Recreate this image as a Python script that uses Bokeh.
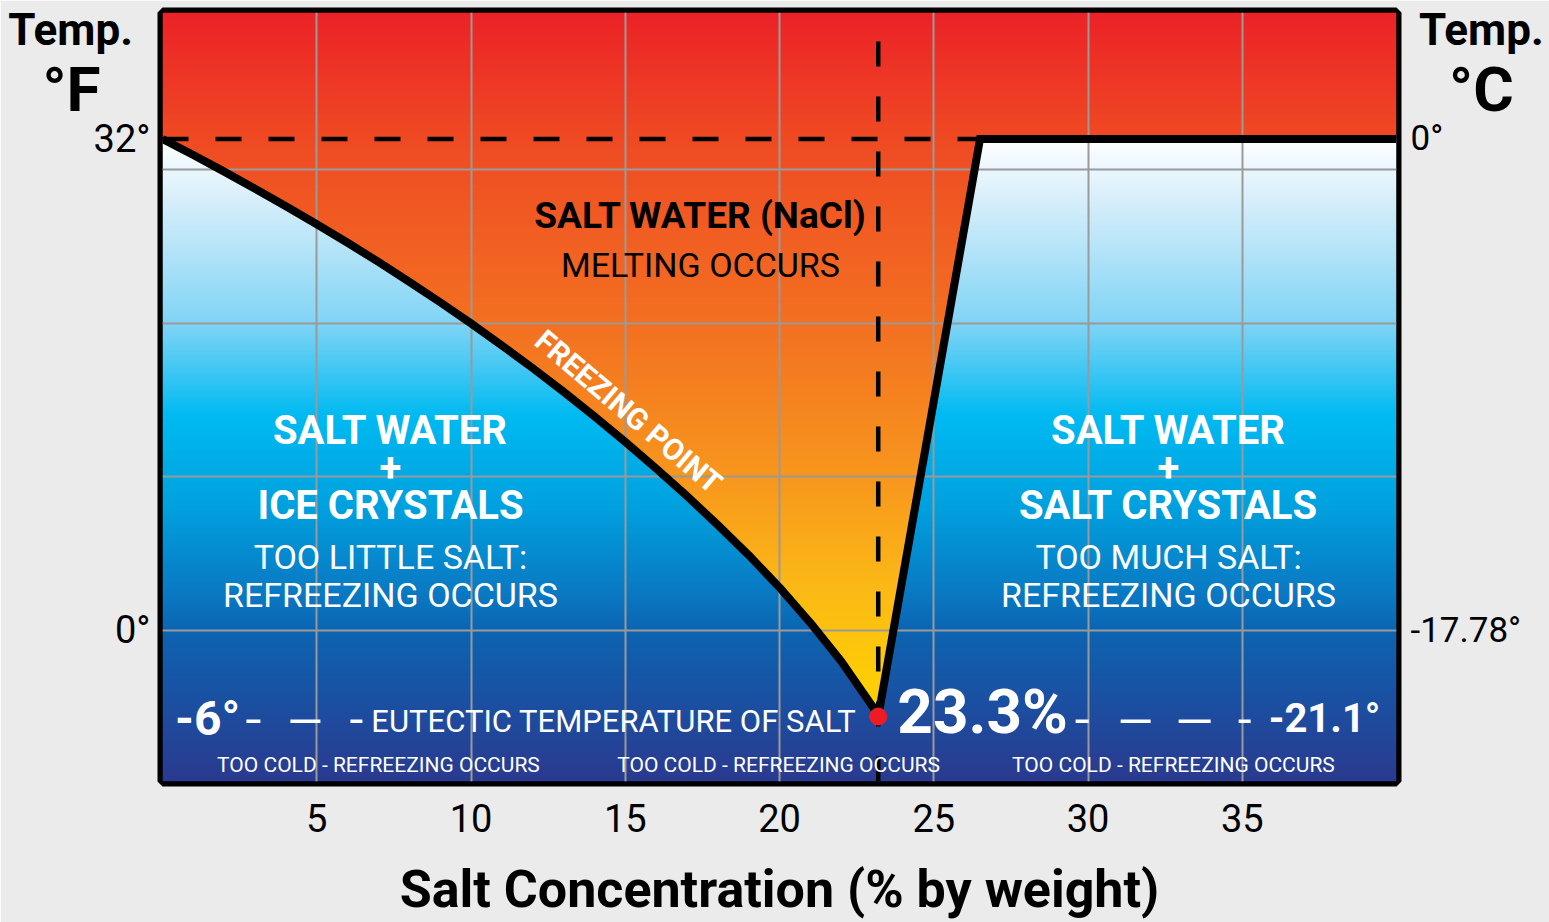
import numpy as np
from bokeh.plotting import figure
from bokeh.models import Range1d, LinearAxis, FixedTicker, Label
from bokeh.core.properties import value
from bokeh.embed import file_html
from bokeh.resources import INLINE

# ---------------- data ----------------
salt_pct = [0, 1, 2, 3, 4, 5, 6, 7, 8, 9, 10, 11, 12, 13, 14, 15, 16, 17, 18, 19, 20, 21, 22, 23, 23.2]
freeze_temp_f = [32.0, 30.95, 29.87, 28.76, 27.62, 26.45, 25.24, 23.99, 22.70, 21.37, 19.99, 18.56,
                 17.08, 15.54, 13.94, 12.28, 10.55, 8.75, 6.87, 4.91, 2.8, 0.5, -2.0, -4.9, -5.6]
saturation_pct = [23.2, 26.5, 40.0]
saturation_temp_f = [-5.6, 32.0, 32.0]
eutectic_pct = [23.2]
eutectic_temp_f = [-5.6]
water_freeze_f = [32.0, 32.0]
x_ticks = [5, 10, 15, 20, 25, 30, 35]
grid_f = [0, 10, 20, 30]
f_ticks = [0, 32]
f_labels = ["0°", "32°"]
c_labels = ["-17.78°", "0°"]

# gradient stops (style)
warm_y = [40.23, 32.0, 20.0, 10.0, 3.0, -6.0]
warm_rgb = [(236, 34, 39), (239, 74, 35), (243, 112, 33), (247, 150, 29), (251, 184, 22), (255, 214, 0)]
cold_y = [32.0, 28.0, 20.0, 14.0, 8.0, 2.0, 0.0, -5.0, -9.83]
cold_rgb = [(255, 255, 255), (214, 238, 250), (128, 212, 245), (0, 186, 241), (0, 160, 222),
            (10, 118, 193), (12, 100, 177), (28, 78, 160), (42, 58, 143)]

X0, X1 = 0.0, 40.0
Y0, Y1 = -9.83, 40.23

FONT = "Roboto"

p = figure(width=1549, height=922, x_range=Range1d(X0, X1), y_range=Range1d(Y0, Y1),
           output_backend="svg", toolbar_location=None,
           min_border_left=162, min_border_right=153, min_border_top=12, min_border_bottom=141)
p.border_fill_color = "#ebebeb"
p.background_fill_color = "#ffffff"
p.outline_line_color = "black"
p.outline_line_width = 10

# ---------------- background gradient image ----------------
nx, ny = 617, 385
xs = X0 + (np.arange(nx) + 0.5) * (X1 - X0) / nx
ys = Y0 + (np.arange(ny) + 0.5) * (Y1 - Y0) / ny
left_bound = np.interp(xs, salt_pct, freeze_temp_f)
right_bound = np.interp(xs, saturation_pct, saturation_temp_f)
bound = np.where(xs <= eutectic_pct[0], left_bound, right_bound)
liquid = ys[:, None] >= bound[None, :]


def grad(sy, srgb, y):
    sy = np.array(sy, float)
    c = np.array(srgb, float)
    o = np.argsort(sy)
    return np.stack([np.interp(y, sy[o], c[o, k]) for k in range(3)], -1)


warm = grad(warm_y, warm_rgb, ys)
cold = grad(cold_y, cold_rgb, ys)
rgb = np.where(liquid[..., None], warm[:, None, :], cold[:, None, :])
rgba = np.zeros((ny, nx, 4), dtype=np.uint8)
rgba[..., :3] = np.round(rgb).astype(np.uint8)
rgba[..., 3] = 255
img = rgba.view(np.uint32).reshape(ny, nx)
p.image_rgba(image=[img], x=X0, y=Y0, dw=X1 - X0, dh=Y1 - Y0, level="image")

# ---------------- grid ----------------
p.xgrid.ticker = FixedTicker(ticks=x_ticks)
p.ygrid.ticker = FixedTicker(ticks=grid_f)
p.grid.grid_line_color = "#9a9a9a"
p.grid.grid_line_width = 2

# ---------------- axes ----------------
p.xaxis.ticker = FixedTicker(ticks=x_ticks)
p.yaxis.ticker = FixedTicker(ticks=f_ticks)
p.yaxis.major_label_overrides = {t: s for t, s in zip(f_ticks, f_labels)}
raxis = LinearAxis(ticker=FixedTicker(ticks=f_ticks),
                   major_label_overrides={t: s for t, s in zip(f_ticks, c_labels)})
p.add_layout(raxis, "right")
for ax in [p.xaxis[0], p.yaxis[0], raxis]:
    ax.axis_line_color = None
    ax.major_tick_line_color = None
    ax.minor_tick_line_color = None
    ax.major_tick_out = 0
    ax.minor_tick_out = 0
    ax.major_label_text_font = FONT
    ax.major_label_text_font_size = "38px"
    ax.major_label_text_color = "black"
raxis.major_label_text_font_size = "35px"
p.xaxis.major_label_standoff = 22
p.yaxis[0].major_label_standoff = 12
raxis.major_label_standoff = 14
p.xaxis.axis_label = "Salt Concentration (% by weight)"
p.xaxis.axis_label_text_font = FONT
p.xaxis.axis_label_text_font_size = "52px"
p.xaxis.axis_label_text_font_style = "bold"
p.xaxis.axis_label_text_color = "black"
p.xaxis.axis_label_standoff = 24

# ---------------- lines ----------------
p.line([X0, saturation_pct[1]], water_freeze_f, line_color="black", line_width=4.5, line_dash="26 27")
p.line([eutectic_pct[0], eutectic_pct[0]], [Y0, Y1], line_color="black", line_width=4.5, line_dash="25 30")
p.line(salt_pct, freeze_temp_f, line_color="black", line_width=8, line_join="round")
p.line(saturation_pct, saturation_temp_f, line_color="black", line_width=8, line_join="miter")
p.scatter(eutectic_pct, eutectic_temp_f, size=18, fill_color="#ED1C24", line_color=None)

# white dash marks along eutectic temperature
p.line([2.72, 6.48], [-5.9, -5.9], line_color="white", line_width=3.5, line_dash="14 30 30 30 14 200")
p.line([29.6, 35.33], [-5.9, -5.9], line_color="white", line_width=3.5,
       line_dash="13 32 30 28 32 28 12 200")


# ---------------- texts ----------------
def lab(x, y, text, size, color="white", style="normal", align="center",
        baseline="middle", angle=0.0):
    p.add_layout(Label(x=x, y=y, text=text, text_font=FONT, text_font_size=f"{size}px",
                       text_font_style=style, text_color=color, text_align=align,
                       text_baseline=baseline, angle=angle))


def outside(x, y, text, size):
    # glyph text drawn at overlay level so that it is not clipped to the frame
    p.text(x=[x], y=[y], text=[text], text_font=value(FONT), text_font_size=value(f"{size}px"),
           text_font_style="bold", text_color="black", text_align="center",
           text_baseline="middle", level="overlay")


lab(17.44, 27.0, "SALT WATER (NaCl)", 37, color="black", style="bold")
lab(17.44, 23.82, "MELTING OCCURS", 34, color="black")

for cx, l2, l3 in [(7.39, "ICE CRYSTALS", "TOO LITTLE SALT:"), (32.61, "SALT CRYSTALS", "TOO MUCH SALT:")]:
    lab(cx, 13.02, "SALT WATER", 40, style="bold")
    lab(cx, 10.67, "+", 40, style="bold")
    lab(cx, 8.13, l2, 40, style="bold")
    lab(cx, 4.81, l3, 34)
    lab(cx, 2.34, "REFREEZING OCCURS", 34)

lab(15.11, 14.25, "FREEZING POINT", 30, style="bold", angle=-0.703)

lab(1.46, -5.73, "-6°", 48, style="bold")
lab(6.77, -5.93, "EUTECTIC TEMPERATURE OF SALT", 31, align="left")
lab(23.82, -5.28, "23.3%", 62, style="bold", align="left")
lab(39.48, -5.73, "-21.1°", 40, style="bold", align="right")
for cx in [7.0, 19.97, 32.77]:
    lab(cx, -8.73, "TOO COLD - REFREEZING OCCURS", 21)

outside(-2.98, 39.06, "Temp.", 44)
outside(-2.95, 35.25, "°F", 62)
outside(42.75, 39.06, "Temp.", 44)
outside(42.75, 35.25, "°C", 62)

open("out.html", "w").write(file_html(p, INLINE))
